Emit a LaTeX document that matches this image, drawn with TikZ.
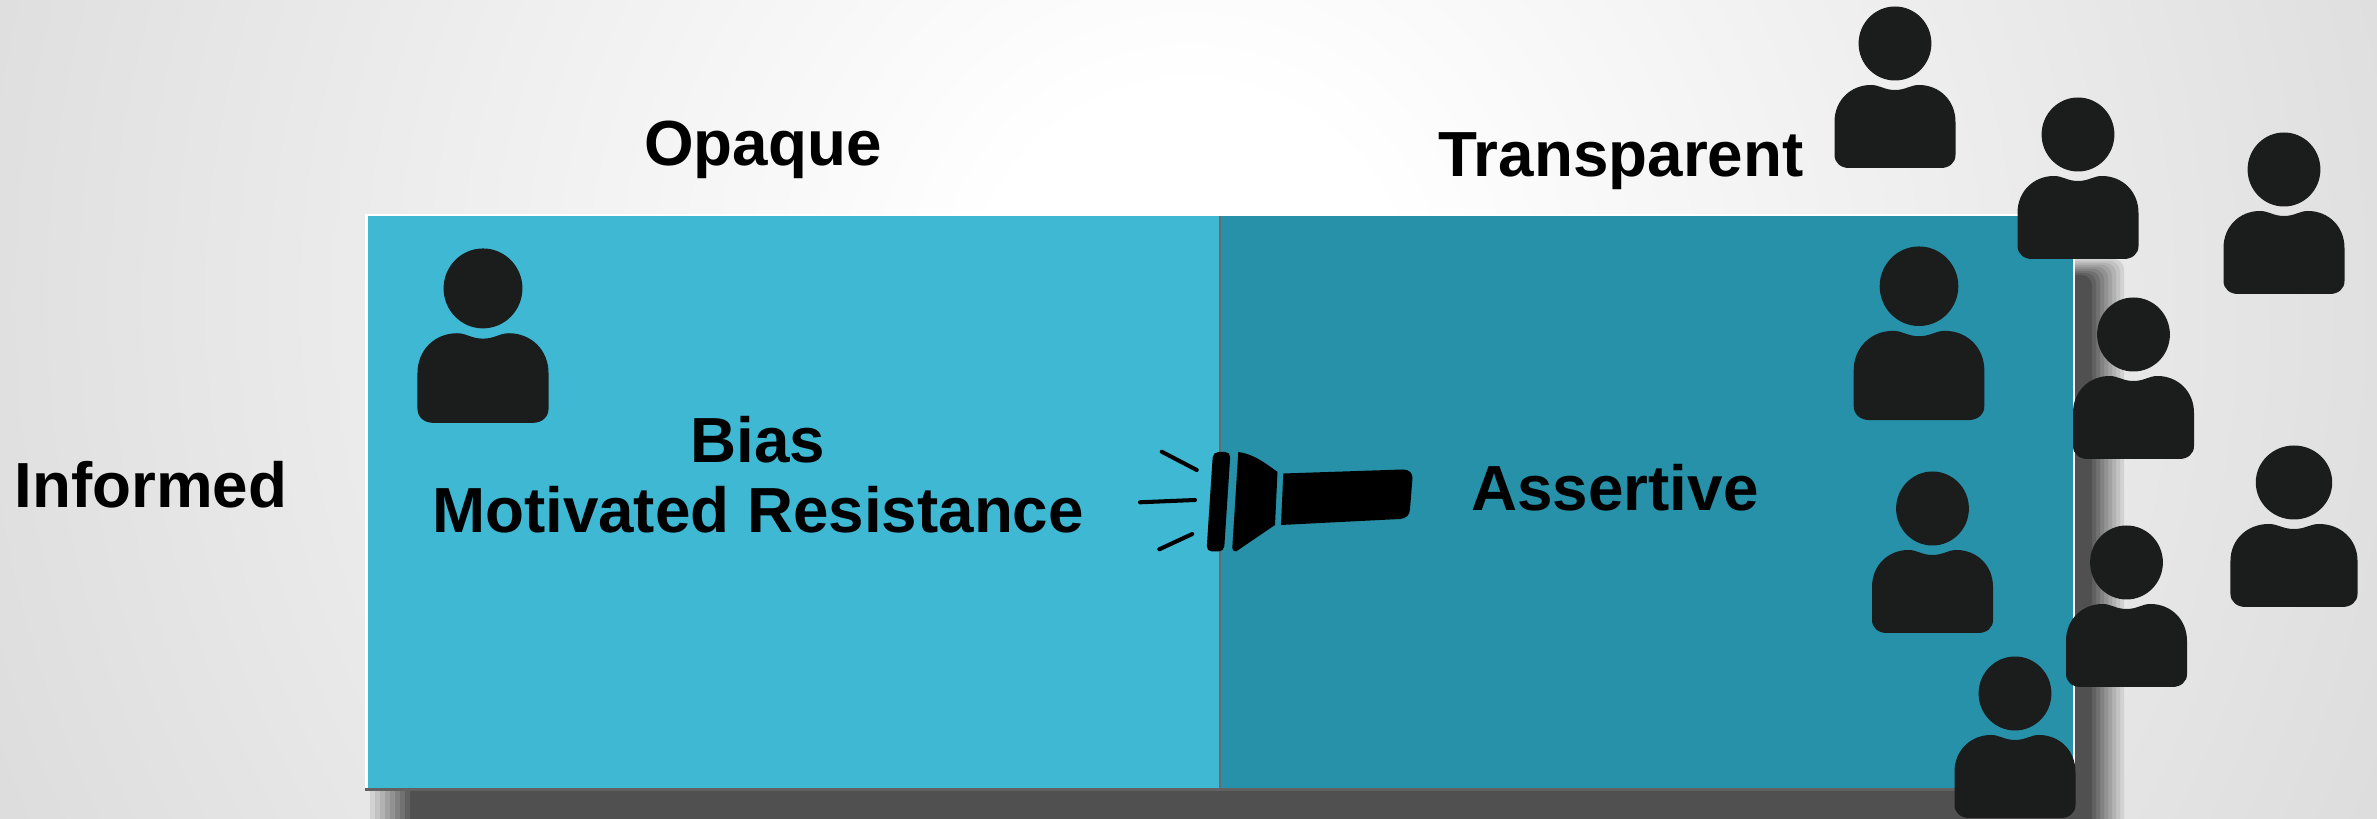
\documentclass[tikz,border=0pt]{standalone}
\usepackage{fontspec}
\setmainfont{Liberation Sans}
\usepackage{tikz}

\definecolor{bgrim}{HTML}{D6D6D6}
\definecolor{bgside}{HTML}{E2E2E2}
\definecolor{shadowgray}{HTML}{505050}
\definecolor{opaquefill}{HTML}{3FB8D3}
\definecolor{transpfill}{HTML}{2691A8}
\definecolor{dividergray}{HTML}{6A6A6A}
\definecolor{personblack}{HTML}{1B1C1C}

\pgfdeclareradialshading{slideglow}{\pgfpointorigin}{color(0bp)=(white); color(4bp)=(white); color(29bp)=(bgrim); color(100bp)=(bgrim)}

\tikzset{
    heading/.style={inner sep=0pt, align=center, text=black, font=\fontsize{18.13}{20}\selectfont\bfseries},
    ray/.style={draw=black, line width=1.15pt, line cap=round},
    pics/person/.style={code={
        \fill [personblack] (0,36.5) ellipse [x radius=36.4, y radius=37];
        \fill [personblack] (-60.5,148) -- (-60.5,115) .. controls (-60.5,93) and (-44,78) .. (-24,78)
            .. controls (-15,78) and (-11,83) .. (0,83) .. controls (11,83) and (15,78) .. (24,78)
            .. controls (44,78) and (60.5,93) .. (60.5,115) -- (60.5,148)
            .. controls (60.5,156) and (54,161) .. (46,161) -- (-46,161)
            .. controls (-54,161) and (-60.5,156) .. (-60.5,148) -- cycle;
    }}
}

\begin{document}
\begin{tikzpicture}[x=0.01cm, y=-0.01cm]
        \useasboundingbox (0,0) rectangle (2377,819);
        \clip (0,0) rectangle (2377,819);
        \shade [shading=slideglow] (1190,300) circle [radius=1300];

        % shadow, outer band first
        \foreach \i in {0,...,8} {
            \pgfmathtruncatemacro{\p}{100*(\i+1)/9}
            \fill [shadowgray!\p!bgside, rounded corners=3pt] (370+5*\i,259+2*\i) rectangle (2124-4*\i,860);
        }

        % panels
        \fill [white] (365,214) rectangle (2075,791);
        \fill [shadowgray!90!white] (365,788) rectangle (2075,791);
        \fill [opaquefill] (368,216.5) rectangle (1220,788);
        \fill [transpfill] (1220,216.5) rectangle (2072.5,788);
        \draw [dividergray, line width=0.6pt] (1220,216.5) -- (1220,788);

        % flashlight
        \draw [ray] (1161.7,451.7) -- (1196.7,470);
        \draw [ray] (1140,502.3) -- (1195,500);
        \draw [ray] (1159.3,549.3) -- (1192.3,534);
        \fill [black, rounded corners=1.5pt] (1213,452) -- (1230.5,452) -- (1224,551.5) -- (1206.5,551.5) -- cycle;
        \fill [black] (1238.3,452) .. controls (1253,454) and (1264,462) .. (1277.5,472) -- (1275,525) -- (1236,551.5)
            .. controls (1234,551.5) and (1232,550) .. (1232.3,548) -- cycle;
        \fill [black] (1283.3,473.5) -- (1403,469.5) .. controls (1409,469.5) and (1412.5,473) .. (1412.5,478)
            -- (1410,509) .. controls (1410,515) and (1406,518.5) .. (1400,519) -- (1281,525) -- cycle;

        % people
        \pic at (483,249) [xscale=1.083, yscale=1.08] {person};
        \pic at (1895,7) {person};
        \pic at (2078,98) {person};
        \pic at (2284,133) {person};
        \pic at (1919,247) [xscale=1.08, yscale=1.075] {person};
        \pic at (2133.5,298) {person};
        \pic at (1932.5,472) {person};
        \pic at (2126.5,526) {person};
        \pic at (2294,446) [xscale=1.05] {person};
        \pic at (2015,657) {person};

        % labels
        \node [heading] (opaque) at (763,150) {Opaque};
        \node [heading] (transparent) at (1621,161) {Transparent};
        \node [heading] (informed) at (151,485) {Informed};
        \node [heading] (bias) at (758,475) {Bias\\Motivated Resistance};
        \node [heading] (assertive) at (1615,488) {Assertive};
    \end{tikzpicture}
\end{document}
